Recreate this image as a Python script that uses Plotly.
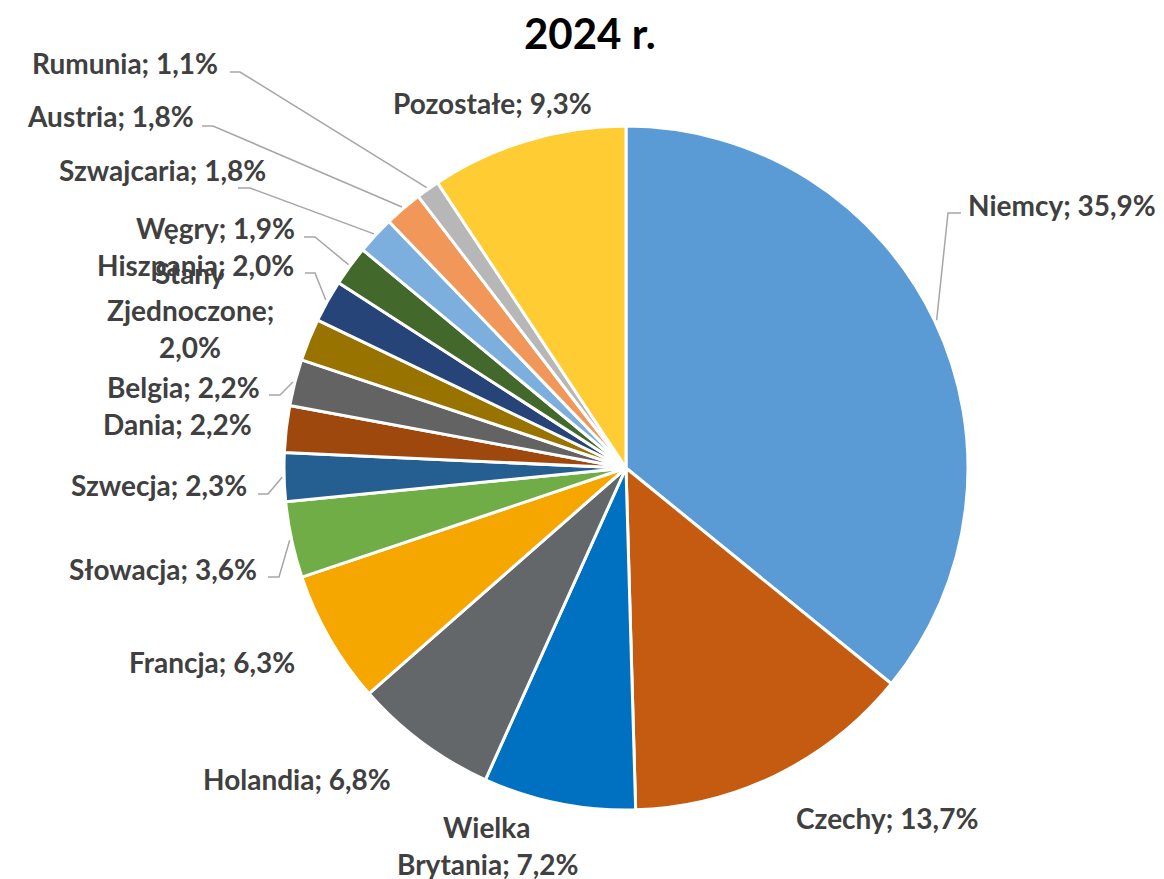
import math
import plotly.graph_objects as go

W, H = 1164, 879

# ---- data ----
countries = ["Niemcy", "Czechy", "Wielka Brytania", "Holandia", "Francja", "Słowacja",
             "Szwecja", "Dania", "Belgia", "Stany Zjednoczone", "Hiszpania", "Węgry",
             "Szwajcaria", "Austria", "Rumunia", "Pozostałe"]
shares = [35.9, 13.7, 7.2, 6.8, 6.3, 3.6, 2.3, 2.2, 2.2, 2.0, 2.0, 1.9, 1.8, 1.8, 1.1, 9.3]
label_lines = {
    "Wielka Brytania": ["Wielka", "Brytania; {v}"],
    "Stany Zjednoczone": ["Stany", "Zjednoczone;", "{v}"],
}
title_text = "2024 r."

# ---- styles / layout positions ----
colors = ["#5B9BD5", "#C55A11", "#0070C0", "#63676A", "#F5A700", "#70AD47",
          "#255E91", "#9E480E", "#636363", "#997300", "#264478", "#43682B",
          "#7CAFDD", "#F1975A", "#B7B7B7", "#FFCD33"]
OFF = 8  # page body margin
CX, CY, R = 626, 468, 342
# label block centres in pixels
label_pos = [(1062, 205), (887, 818), (487, 845), (297, 779), (212, 662), (163, 569),
             (159, 485), (177, 424), (183, 387), (190, 310), (195, 265), (215, 228),
             (162, 170), (110, 116), (125, 63), (492, 103)]
# leader line start / elbow (pixels) or None
leaders = [((961, 213), (948, 213)), None, None, None, None, ((268, 577), (279, 577)),
           ((258, 494), (268, 494)), None, ((269, 395), (280, 395)), None,
           ((305, 273), (315, 273)), ((304, 237), (315, 237)), ((238, 188), (250, 188)),
           ((202, 126), (213, 126)), ((230, 72), (240, 72)), None]
FONT = "Lato"
FS = 28
LINE_H = 37
TXT = "#404040"


def px(x):
    return (x - OFF) / W


def py(y):
    return 1 - (y - OFF) / H


fig = go.Figure(go.Pie(
    labels=countries, values=shares, sort=False, direction="clockwise", rotation=0,
    marker=dict(colors=colors, line=dict(color="white", width=3)),
    textinfo="none", hoverinfo="label+percent",
    domain=dict(x=[px(CX - R), px(CX + R)], y=[py(CY + R), py(CY - R)]),
    showlegend=False,
))

annotations = []
shapes = []
total = sum(shares)
cum = 0.0
for i, (name, v) in enumerate(zip(countries, shares)):
    mid = (cum + v / 2) / total * 2 * math.pi
    cum += v
    vs = f"{v:.1f}%".replace(".", ",")
    lines = label_lines.get(name, ["{n}; {v}"])
    lines = [l.format(n=name, v=vs) for l in lines]
    lx, ly = label_pos[i]
    n = len(lines)
    for k, l in enumerate(lines):
        yy = ly + (k - (n - 1) / 2) * LINE_H
        annotations.append(dict(
            x=px(lx), y=py(yy), xref="paper", yref="paper", text=l, showarrow=False,
            xanchor="center", yanchor="middle",
            font=dict(family=FONT, size=FS, color=TXT, weight="bold")))
    if leaders[i] is not None:
        (sx, sy), (ex, ey) = leaders[i]
        tx = CX + (R + 2) * math.sin(mid)
        ty = CY - (R + 2) * math.cos(mid)
        path = f"M {px(sx)} {py(sy)} L {px(ex)} {py(ey)} L {px(tx)} {py(ty)}"
        shapes.append(dict(type="path", xref="paper", yref="paper", path=path,
                           line=dict(color="#A6A6A6", width=1.5)))

annotations.append(dict(
    x=px(590), y=py(33), xref="paper", yref="paper", text=title_text, showarrow=False,
    xanchor="center", yanchor="middle",
    font=dict(family=FONT, size=42, color="black", weight="bold")))

fig.update_layout(
    width=W, height=H, margin=dict(l=0, r=0, t=0, b=0),
    paper_bgcolor="white", plot_bgcolor="white",
    annotations=annotations, shapes=shapes,
)

fig.write_html("out.html")
